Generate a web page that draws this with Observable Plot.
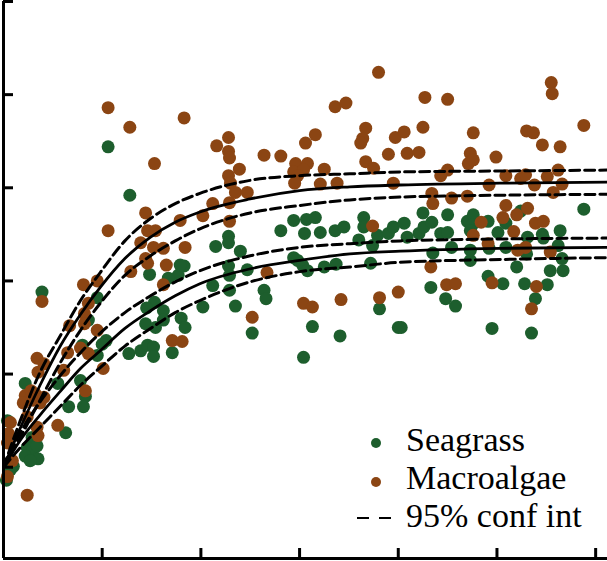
<!DOCTYPE html>
<html>
<head>
<meta charset="utf-8">
<script src="https://cdn.jsdelivr.net/npm/d3@7"></script>
<script src="https://cdn.jsdelivr.net/npm/@observablehq/plot@0.6"></script>
<style>
  html, body { margin: 0; padding: 0; background: #fff; }
  #wrap { position: relative; width: 607px; height: 561px; }
  #wrap svg { position: absolute; left: 0; top: 0; }
</style>
</head>
<body>
<div id="wrap"></div>
<script>
// ---- tick values ----
const xTicks = [1, 2, 3, 4, 5, 6];
const yTicks = [0, 1, 2, 3, 4, 5];

// ---- Seagrass observations ----
const seagrassX = [1.06,1.28,1.83,1.77,1.48,1.67,0.39,0.95,1.53,1.45,1.62,2.02,1.62,1.80,1.84,1.44,1.54,0.86,0.80,1.04,1.00,0.95,1.27,1.39,1.46,1.52,1.52,1.71,
  0.22,0.55,0.78,0.83,0.81,0.66,0.63,0.04,0.29,0.24,0.30,0.34,0.22,0.35,0.27,0.07,0.10,0.03,
  2.94,3.07,3.16,2.81,3.05,3.21,3.36,3.45,3.65,3.65,3.60,3.74,3.79,3.90,3.95,2.28,2.28,2.15,2.40,1.79,2.28,2.29,2.47,2.94,2.98,3.03,3.08,3.25,3.37,3.72,2.12,2.29,2.64,2.66,2.35,3.81,4.00,3.13,2.52,3.41,3.04,
  5.88,4.25,4.50,4.06,4.09,4.21,4.26,4.34,4.43,4.50,4.70,4.76,4.75,4.73,4.91,5.01,5.24,5.09,5.31,5.46,5.47,5.64,5.62,4.54,4.35,4.73,4.73,4.92,5.09,5.30,5.66,5.67,5.20,5.54,4.91,5.06,5.28,5.51,5.39,4.33,4.48,4.58,4.03,4.95,5.35];
const seagrassY = [3.44,2.92,2.16,2.06,2.07,2.03,1.88,1.82,1.77,1.71,1.68,1.72,1.58,1.60,1.50,1.54,1.50,1.58,1.31,1.36,1.32,1.20,1.22,1.25,1.31,1.29,1.19,1.23,
  0.90,0.90,0.93,0.76,0.65,0.65,0.37,0.50,0.32,0.21,0.19,0.23,0.12,0.09,0.07,-0.03,0.01,-0.14,
  2.65,2.66,2.68,2.54,2.51,2.52,2.54,2.58,2.68,2.58,2.44,2.38,2.49,2.51,2.58,2.48,2.41,2.37,2.32,2.17,2.16,2.06,2.12,2.25,2.22,2.17,2.11,2.15,2.18,2.19,1.95,1.90,1.90,1.81,1.73,1.70,1.50,1.51,1.44,1.41,1.18,
  2.77,2.73,2.71,2.62,2.47,2.51,2.58,2.63,2.51,2.52,2.64,2.71,2.60,2.54,2.64,2.52,2.75,2.62,2.47,2.50,2.46,2.54,2.38,2.36,2.30,2.33,2.22,2.35,2.36,2.29,2.24,2.11,2.15,2.11,2.05,1.97,1.97,1.96,1.81,1.93,1.81,1.73,1.50,1.49,1.44];

// ---- Macroalgae observations ----
const macroX = [1.06,1.28,1.83,1.53,1.44,1.06,1.46,1.54,1.39,1.52,1.62,1.84,1.44,1.46,1.65,1.29,1.62,0.81,0.95,0.39,0.86,0.82,0.82,0.67,0.95,1.71,1.81,0.65,1.01,0.78,0.86,0.34,0.41,0.61,0.35,0.22,0.28,0.32,0.30,0.83,0.37,0.41,0.20,0.24,0.55,0.07,0.05,0.04,0.34,0.35,0.09,0.04,0.24,
  3.80,3.36,3.47,2.28,2.16,3.16,3.06,2.28,2.29,2.39,2.64,2.81,2.96,3.08,2.94,3.04,2.98,3.25,3.67,3.64,3.62,3.67,3.75,3.90,3.97,2.28,2.30,2.35,2.47,2.95,3.21,3.38,3.95,2.12,2.29,2.02,1.79,2.29,3.74,2.67,2.52,3.04,3.13,3.42,3.81,4.00,
  5.55,5.56,4.27,4.50,5.88,4.06,4.25,5.30,5.37,4.76,5.46,5.64,4.09,4.21,4.73,4.71,4.76,4.99,4.50,4.43,5.09,5.24,5.29,5.51,5.62,4.92,5.38,5.66,5.57,4.34,4.35,4.54,4.70,5.09,5.31,5.06,5.20,5.39,5.47,4.84,5.17,4.76,4.91,5.21,5.29,5.54,4.33,4.49,4.58,4.95,5.40,5.35];
const macroY = [3.86,3.65,3.75,3.26,2.73,2.54,2.54,2.54,2.41,2.36,2.35,2.36,2.24,2.19,2.17,2.10,1.96,1.96,2.00,1.78,1.76,1.65,1.54,1.52,1.47,1.36,1.35,1.23,1.06,1.28,1.22,1.17,1.11,1.04,1.02,0.77,0.82,0.79,0.72,0.82,0.69,0.75,0.69,0.54,0.45,0.48,0.36,0.26,0.43,0.34,0.07,-0.10,-0.30,
  4.24,3.87,3.91,3.54,3.45,3.57,3.48,3.39,3.32,3.20,3.35,3.34,3.26,3.26,3.17,3.19,3.13,3.20,3.64,3.53,3.48,3.28,3.21,3.36,3.54,3.13,3.05,2.95,2.95,3.05,3.04,3.05,3.05,2.83,2.84,2.70,2.65,2.64,2.59,2.09,1.61,1.76,1.72,1.80,1.82,1.88,
  4.13,4.01,3.97,3.95,3.67,3.60,3.65,3.61,3.59,3.59,3.46,3.44,3.37,3.38,3.37,3.26,3.30,3.33,3.19,3.13,3.13,3.10,3.14,3.12,3.19,3.03,3.03,3.04,2.95,2.94,2.83,2.89,2.91,2.81,2.78,2.68,2.71,2.62,2.64,2.63,2.53,2.49,2.40,2.33,2.36,2.31,2.15,1.96,1.97,1.98,1.94,1.70];

// ---- fitted curves and 95% confidence bands ----
const fitX       = [0, 0.17, 0.37, 0.58, 0.78, 0.98, 1.23, 1.49, 1.74, 1.99, 2.50, 3.00, 3.51, 4.02, 5.03, 6.12];
const macroFit   = [0, 0.42, 0.88, 1.31, 1.64, 1.93, 2.24, 2.47, 2.63, 2.74, 2.88, 2.97, 3.01, 3.03, 3.05, 3.06];
const macroUpper = [0, 0.50, 1.02, 1.42, 1.79, 2.09, 2.43, 2.67, 2.83, 2.94, 3.08, 3.13, 3.15, 3.17, 3.18, 3.19];
const macroLower = [0, 0.32, 0.72, 1.13, 1.47, 1.76, 2.06, 2.27, 2.43, 2.56, 2.73, 2.81, 2.87, 2.90, 2.92, 2.93];
const seaFit     = [0, 0.29, 0.56, 0.82, 1.06, 1.25, 1.49, 1.68, 1.84, 1.97, 2.13, 2.22, 2.29, 2.32, 2.35, 2.36];
const seaUpper   = [0, 0.37, 0.70, 0.99, 1.23, 1.44, 1.66, 1.84, 1.99, 2.11, 2.27, 2.36, 2.40, 2.43, 2.45, 2.46];
const seaLower   = [0, 0.21, 0.43, 0.66, 0.88, 1.07, 1.30, 1.49, 1.66, 1.79, 1.99, 2.10, 2.15, 2.20, 2.23, 2.25];

// ---- legend ----
const legendLabels = ["Seagrass", "Macroalgae", "95% conf int"];

const GREEN = "#1d5e2d";
const BROWN = "#8b4513";

const seagrass = seagrassX.map((x, i) => ({x, y: seagrassY[i]}));
const macro = macroX.map((x, i) => ({x, y: macroY[i]}));
const solid = [
  ...fitX.map((x, i) => ({x, y: macroFit[i], s: "macro"})),
  ...fitX.map((x, i) => ({x, y: seaFit[i], s: "sea"}))
];
const dashed = [
  ...fitX.map((x, i) => ({x, y: macroUpper[i], s: "mu"})),
  ...fitX.map((x, i) => ({x, y: macroLower[i], s: "ml"})),
  ...fitX.map((x, i) => ({x, y: seaUpper[i], s: "su"})),
  ...fitX.map((x, i) => ({x, y: seaLower[i], s: "sl"}))
];

const chart = Plot.plot({
  width: 607,
  height: 561,
  marginLeft: 3,
  marginRight: 0,
  marginTop: 1,
  marginBottom: 3,
  x: {domain: [0, 6.12]},
  y: {domain: [-0.98, 5]},
  marks: [
    Plot.dot(seagrass, {x: "x", y: "y", r: 6.5, fill: GREEN}),
    Plot.dot(macro, {x: "x", y: "y", r: 6.5, fill: BROWN}),
    Plot.line(dashed, {x: "x", y: "y", z: "s", curve: "monotone-x", stroke: "black", strokeWidth: 3, strokeDasharray: "10,5"}),
    Plot.line(solid, {x: "x", y: "y", z: "s", curve: "monotone-x", stroke: "black", strokeWidth: 2.8}),
    Plot.ruleX([0], {strokeWidth: 3}),
    Plot.ruleY([-0.98], {strokeWidth: 3}),
    Plot.axisX({ticks: xTicks, tickSize: -10, strokeWidth: 3, tickFormat: () => "", label: null}),
    Plot.axisY({ticks: yTicks, tickSize: -10, strokeWidth: 3, tickFormat: () => "", label: null})
  ]
});

const wrap = document.getElementById("wrap");
wrap.appendChild(chart);

// legend overlay
const leg = d3.select(wrap).append("svg")
  .attr("width", 607).attr("height", 561)
  .style("pointer-events", "none");
const rows = [
  {label: legendLabels[0], kind: "dot", color: GREEN, baseline: 451, cy: 443},
  {label: legendLabels[1], kind: "dot", color: BROWN, baseline: 489, cy: 482},
  {label: legendLabels[2], kind: "dash", color: "black", baseline: 527, cy: 518}
];
rows.forEach(r => {
  if (r.kind === "dot") {
    leg.append("circle").attr("cx", 376).attr("cy", r.cy).attr("r", 5).attr("fill", r.color);
  } else {
    leg.append("line").attr("x1", 357).attr("x2", 392).attr("y1", r.cy).attr("y2", r.cy)
      .attr("stroke", "black").attr("stroke-width", 2).attr("stroke-dasharray", "12,10");
  }
  leg.append("text").attr("x", 406).attr("y", r.baseline)
    .attr("font-family", "'Liberation Serif', 'Times New Roman', serif")
    .attr("font-size", 34).attr("fill", "black").text(r.label);
});
</script>
</body>
</html>
